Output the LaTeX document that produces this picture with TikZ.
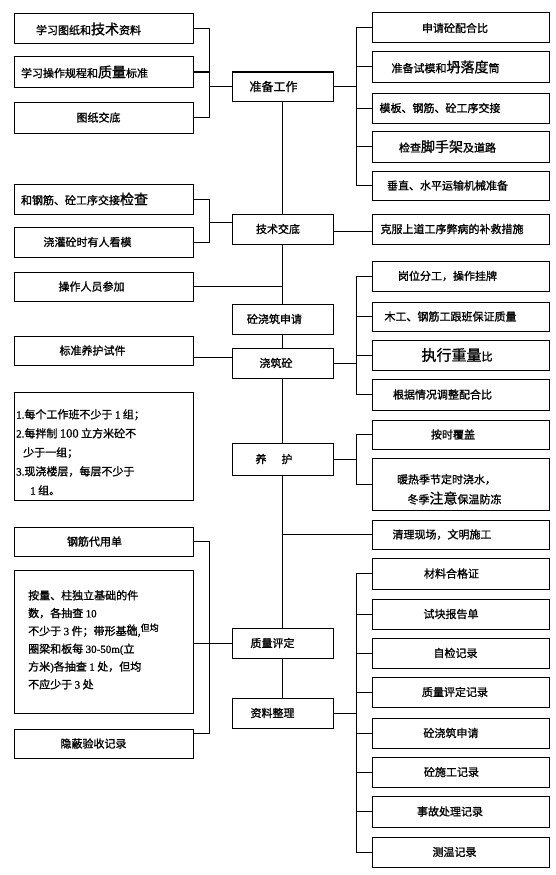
\documentclass[tikz,border=0pt]{standalone}
\usepackage{fontspec}
\setmainfont{Noto Sans CJK SC}[FakeBold=1.2]
\newfontfamily\lat{Liberation Serif}[FakeBold=0.8]
\newcommand{\sh}[2]{\hspace*{#1pt}#2\hspace*{-#1pt}}
\newcommand{\bgc}[1]{{\fontsize{14}{14}\selectfont #1}}
\tikzset{
  box/.style={draw, line width=1pt, inner sep=0pt, minimum height=30pt, font=\fontsize{11}{13}\selectfont},
  lbox/.style={box, minimum width=179pt},
  rbox/.style={box, minimum width=177pt},
  cbox/.style={box, minimum width=101pt},
  conn/.style={line width=1pt},
  txt/.style={inner sep=0pt, anchor=north west, align=left}
}
\begin{document}
\begin{tikzpicture}[x=1pt,y=-1pt]
\useasboundingbox[fill=white] (0,0) rectangle (555,875);
% left column
\node[lbox] (l1) at (103.5,29) {\sh{-15}{学习图纸和\bgc{技术}资料}};
\node[lbox] (l2) at (103.5,72) {\sh{-19}{学习操作规程和\bgc{质量}标准}};
\node[lbox, minimum height=31pt] (l3) at (103.5,117.5) {\sh{-5}{图纸交底}};
\node[lbox] (l4) at (103.5,199) {\sh{-19}{和钢筋、砼工序交接\bgc{检查}}};
\node[lbox] (l5) at (103.5,242) {\sh{-16}{浇灌砼时有人看模}};
\node[lbox, minimum height=29pt] (l6) at (103.5,286.5) {\sh{-12}{操作人员参加}};
\node[lbox, minimum height=29pt] (l7) at (103.5,350.5) {\sh{-11}{标准养护试件}};
\node[lbox, minimum height=108pt] (l8) at (103.5,446) {};
\node[txt, font=\fontsize{11}{19}\selectfont] (l8t) at (16,409) {%
{\lat 1.}每个工作班不少于 {\lat 1} 组；\\
{\lat 2.}每拌制 {\lat\fontsize{12.5}{19}\selectfont 100} 立方米砼不\\
\hspace*{7pt}少于一组；\\
{\lat 3.}现浇楼层，每层不少于\\
\hspace*{14pt}{\lat 1} 组。};
\node[lbox, minimum height=29pt] (l9) at (103.5,541.5) {\sh{-9}{钢筋代用单}};
\node[lbox, minimum height=143pt] (l10) at (103.5,641.5) {};
\node[txt, font=\fontsize{11}{17.8}\selectfont] (l10t) at (28,590) {%
按量、柱独立基础的件\\
数，各抽查 {\lat 10}\\
不少于 {\lat 3} 件；带形基\rlap{\hspace*{1pt}\raisebox{4pt}{\lat\fontsize{10}{10}\selectfont\%}}础,\raisebox{4pt}{\fontsize{9}{9}\selectfont 但均}\\
圈梁和板每 {\lat 30-50m(}立\\
方米{\lat )}各抽查 {\lat 1} 处，但均\\
不应少于 {\lat 3} 处};
\node[lbox, minimum height=29pt] (l11) at (103.5,743.5) {\sh{-10}{隐蔽验收记录}};
% centre column
\node[cbox, minimum height=29pt, font=\fontsize{12}{14}\selectfont] (c1) at (282.5,86.5) {\sh{-9}{准备工作}};
\node[cbox] (c2) at (282.5,229) {\sh{-4.5}{技术交底}};
\node[cbox] (c3) at (282.5,319) {\sh{-8}{砼浇筑申请}};
\node[cbox] (c4) at (282.5,363) {\sh{-6.5}{浇筑砼}};
\node[cbox, minimum height=32pt] (c5) at (282.5,459) {\sh{-8.5}{养\hspace*{15pt}护}};
\node[cbox] (c6) at (282.5,643) {\sh{-10}{质量评定}};
\node[cbox] (c7) at (282.5,713) {\sh{-10}{资料整理}};
% right column
\node[rbox] (r1) at (460.5,28) {\sh{-5.5}{申请砼配合比}};
\node[rbox] (r2) at (460.5,67) {\sh{-15}{准备试模和\bgc{坍落度}筒}};
\node[rbox] (r3) at (460.5,108) {\sh{-20.5}{模板、钢筋、砼工序交接}};
\node[rbox, minimum height=31pt] (r4) at (460.5,146.5) {\sh{-13}{检查\bgc{脚手架}及道路}};
\node[rbox, minimum height=29pt] (r5) at (460.5,185.5) {\sh{-13}{垂直、水平运输机械准备}};
\node[rbox] (r6) at (460.5,229) {\sh{-8.5}{克服上道工序弊病的补救措施}};
\node[rbox] (r7) at (460.5,276) {\sh{-13}{岗位分工，操作挂牌}};
\node[rbox, minimum height=29pt] (r8) at (460.5,316.5) {\sh{-10}{木工、钢筋工跟班保证质量}};
\node[rbox] (r9) at (460.5,355) {\sh{-3.5}{{\fontsize{15}{15}\selectfont 执行重量}比}};
\node[rbox, minimum height=31pt] (r10) at (460.5,394.5) {\sh{-18}{根据情况调整配合比}};
\node[rbox, minimum height=29pt] (r11) at (460.5,434.5) {\sh{-7.5}{按时覆盖}};
\node[rbox, minimum height=52pt, align=center, font=\fontsize{11}{20}\selectfont] (r12) at (460.5,484) {\rule{0pt}{20pt}\sh{-14}{暖热季节定时浇水，}\\\sh{-6}{冬季\bgc{注意}保温防冻}};
\node[rbox, minimum height=29pt] (r13) at (460.5,534.5) {\sh{-18.5}{清理现场，文明施工}};
\node[rbox, minimum height=31pt] (r14) at (460.5,573.5) {\sh{-9}{材料合格证}};
\node[rbox] (r15) at (460.5,614) {\sh{-9.5}{试块报告单}};
\node[rbox] (r16) at (460.5,653) {\sh{-5}{自检记录}};
\node[rbox] (r17) at (460.5,692) {\sh{-5.5}{质量评定记录}};
\node[rbox] (r18) at (460.5,733) {\sh{-9.5}{砼浇筑申请}};
\node[rbox] (r19) at (460.5,772) {\sh{-9}{砼施工记录}};
\node[rbox, minimum height=31pt] (r20) at (460.5,811.5) {\sh{-10.5}{事故处理记录}};
\node[rbox] (r21) at (460.5,852) {\sh{-6}{测温记录}};
% bracket axes
\coordinate (bx) at (209,0);
\coordinate (rbx) at (356,0);
% centre spine
\draw[conn] (c1.south) -- (c2.north);
\draw[conn] (c2.south) -- (c3.north);
\draw[conn] (c3.south) -- (c4.north);
\draw[conn] (c4.south) -- (c5.north);
\draw[conn] (c5.south) -- (c6.north);
\draw[conn] (c6.south) -- (c7.north);
% left group 1
\draw[conn] (l1.east) -- (l1.east -| bx) -- (l3.east -| bx) -- (l3.east);
\draw[conn] (l2.east) -- (l2.east -| bx);
\draw[conn] (c1.west) -- (c1.west -| bx);
% left group 2
\draw[conn] (l4.east) -- (l4.east -| bx) -- (l5.east -| bx) -- (l5.east);
\draw[conn] ([yshift=7pt]c2.west) -- ([yshift=7pt]c2.west -| bx);
% single left links
\draw[conn] (l6.east) -- (l6.east -| c1.south);
\draw[conn] ([yshift=-6.5pt]l7.east) -- ([yshift=-6.5pt]l7.east -| c4.west);
% left group 3
\draw[conn] (l9.east) -- (l9.east -| bx) -- ([yshift=10.5pt]l11.east -| bx) -- ([yshift=10.5pt]l11.east);
\draw[conn] (c6.west -| l10.east) -- (c6.west);
% right group a
\draw[conn] (c1.east) -- (c1.east -| rbx);
\draw[conn] (r1.west) -- (r1.west -| rbx) -- (r5.west -| rbx) -- (r5.west);
\foreach \n in {r2,r3,r4} \draw[conn] (\n.west) -- (\n.west -| rbx);
% technical disclosure
\draw[conn] ([yshift=-2pt]c2.east) -- ([yshift=-2pt]r6.west);
% right group b
\draw[conn] (c4.east) -- (c4.east -| rbx);
\draw[conn] (r7.west) -- (r7.west -| rbx) -- (r10.west -| rbx) -- (r10.west);
\foreach \n in {r8,r9} \draw[conn] (\n.west) -- (\n.west -| rbx);
% right group c
\draw[conn] (c5.east) -- (c5.east -| rbx);
\draw[conn] (r11.west) -- (r11.west -| rbx) -- (r12.west -| rbx) -- (r12.west);
% cleanup
\draw[conn] (r13.west -| c1.south) -- (r13.west);
% right group d
\draw[conn] (c7.east) -- (c7.east -| rbx);
\draw[conn] (r14.west) -- (r14.west -| rbx) -- (r21.west -| rbx) -- (r21.west);
\foreach \n in {r15,r16,r17,r18,r19,r20} \draw[conn] (\n.west) -- (\n.west -| rbx);
\end{tikzpicture}
\end{document}
